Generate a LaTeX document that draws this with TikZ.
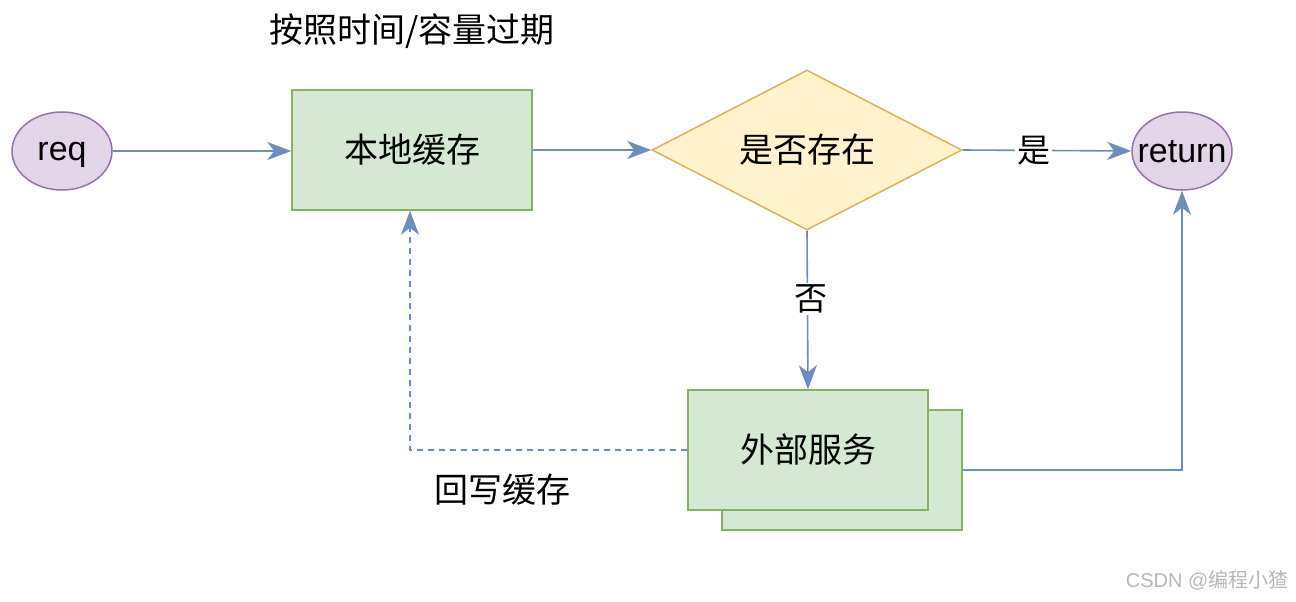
\documentclass[tikz,border=0pt]{standalone}
\usepackage{fontspec}
\setmainfont{Liberation Sans}
\newfontfamily\cjk{Noto Sans CJK SC}
\usetikzlibrary{shapes.geometric,arrows.meta}
\definecolor{edgeblue}{HTML}{6C8EBF}
\definecolor{gfill}{HTML}{D5E8D4}
\definecolor{gline}{HTML}{82B366}
\definecolor{yfill}{HTML}{FFF2CC}
\definecolor{yline}{HTML}{D6B656}
\definecolor{pfill}{HTML}{E1D5E7}
\definecolor{pline}{HTML}{9673A6}
\begin{document}
\begin{tikzpicture}[x=1pt,y=-1pt,
  every node/.style={font=\fontsize{34}{40}\selectfont},
  term/.style={ellipse,draw=pline,fill=pfill,line width=1.5pt,minimum width=100,minimum height=78,inner sep=0},
  tlabel/.style={inner sep=0,font=\fontsize{34}{40}\selectfont},
  box/.style={rectangle,draw=gline,fill=gfill,line width=1.5pt,minimum width=240,minimum height=120,inner sep=0},
  decide/.style={diamond,draw=yline,fill=yfill,line width=1.5pt,minimum width=310,minimum height=160,shape aspect=1.94,inner sep=0},
  conn/.style={draw=edgeblue,line width=1.6pt,-{Stealth[length=24,width=18,inset=7]}},
  lbl/.style={fill=white,inner sep=2pt,font=\cjk\fontsize{33}{38}\selectfont},
  txt/.style={font=\cjk\fontsize{34}{40}\selectfont}]
\useasboundingbox (0,0) rectangle (1296,602);
\fill[white] (0,0) rectangle (1296,602);
\node[term] (req) at (62,151) {};
\node[tlabel] (reqt) at ([yshift=-4]req.center) {req};
\node[box,txt] (cache) at (412,150) {本地缓存};
\node[decide,txt] (dec) at (807,150) {是否存在};
\node[term] (ret) at (1182,151) {};
\node[tlabel] (rett) at ([yshift=-1]ret.center) {return};
\node[box] (ext2) at (842,470) {};
\node[box,txt] (ext) at (808,450) {外部服务};
\node[txt] (t1) at (412,31) {按照时间/容量过期};
\node[txt] (t2) at (502,490) {回写缓存};
\coordinate (wb) at (410,450);
\coordinate (rb) at (1182,470);
\draw[conn] (req.east) -- (req.east -| cache.west);
\draw[conn] (cache.east) -- (dec.west);
\draw[conn] (dec.east) -- node[lbl,pos=0.42] (yes) {是} (ret.west);
\draw[conn] (dec.south) -- node[lbl,pos=0.43,xshift=4] (no) {否} (ext.north);
\draw[conn,dashed,dash pattern=on 6pt off 5pt] (ext.west) -- (wb) -- (wb |- cache.south);
\draw[conn] (ext2.east |- rb) -- (rb) -- (ret.south);
\node[anchor=east,text=black!28,font=\fontsize{20}{24}\selectfont] (wm) at (1292,580) {CSDN @{\cjk 编程小猹}};
\end{tikzpicture}
\end{document}
